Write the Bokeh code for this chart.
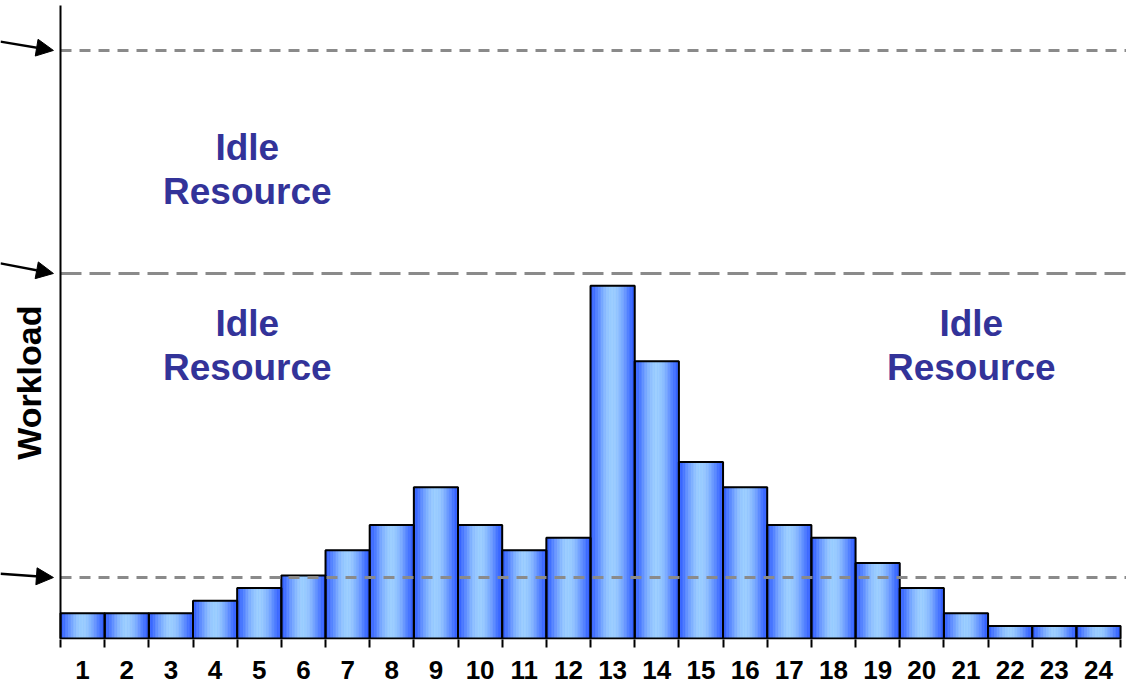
import math
from bokeh.plotting import figure
from bokeh.models import Range1d, FixedTicker, Arrow, NormalHead, ColumnDataSource
from bokeh.core.properties import value
from bokeh.embed import file_html
from bokeh.resources import INLINE

# ---------------- data ----------------
periods = list(range(1, 25))
period_labels = [str(i) for i in periods]
workload = [2, 2, 2, 3, 4, 5, 7, 9, 12, 9, 7, 8, 28, 22, 14, 12, 9, 8, 6, 4, 2, 1, 1, 1]
capacity_levels = [4.84, 28.97, 46.67]
idle_text = ["Idle\nResource", "Idle\nResource", "Idle\nResource"]
idle_x = [4.73, 4.73, 21.12]
idle_y = [37.2, 23.25, 23.25]

# ---------------- styles ----------------
level_dash = ["11 8", "21 8", "11 8"]
arrow_rise = [0.3, 0.8, 0.7]
DARK = (0x2E, 0x5C, 0xFF)
LIGHT = (0x99, 0xCC, 0xFF)
N_STRIPS = 28
FONT = "Liberation Sans"

PX_X, PX_Y = 44.17, 12.6
FRAME_W, FRAME_H = 1126, 639
X0 = 0.5 - 60 / PX_X
X1 = X0 + FRAME_W / PX_X
Y0 = -0.08
Y1 = Y0 + FRAME_H / PX_Y

p = figure(frame_width=FRAME_W, frame_height=FRAME_H,
           x_range=Range1d(X0, X1), y_range=Range1d(Y0, Y1),
           output_backend="svg", toolbar_location=None,
           min_border_left=0, min_border_right=0, min_border_top=0, min_border_bottom=48,
           background_fill_color="white", border_fill_color="white")
p.outline_line_color = None
p.grid.visible = False
p.yaxis.visible = False

# gradient bars built from strips
lefts, rights, tops, bottoms, colors = [], [], [], [], []
for x, v in zip(periods, workload):
    for k in range(N_STRIPS):
        t = (k + 0.5) / N_STRIPS
        f = math.sin(math.pi * t) ** 1.4
        c = tuple(int(round(d + (l - d) * f)) for d, l in zip(DARK, LIGHT))
        lefts.append(x - 0.5 + k / N_STRIPS)
        rights.append(x - 0.5 + (k + 1) / N_STRIPS)
        tops.append(v)
        bottoms.append(0)
        colors.append("#%02x%02x%02x" % c)
strip_src = ColumnDataSource(dict(left=lefts, right=rights, top=tops, bottom=bottoms, color=colors))
p.quad(left="left", right="right", top="top", bottom="bottom", source=strip_src,
       fill_color="color", line_color="color", line_width=0.6)

bar_src = ColumnDataSource(dict(x=periods, top=workload))
p.vbar(x="x", top="top", width=1.0, bottom=0, source=bar_src,
       fill_color=None, line_color="black", line_width=2)

# capacity levels (dashed)
for lvl, dash in zip(capacity_levels, level_dash):
    p.segment(x0=[0.5], y0=[lvl], x1=[X1], y1=[lvl], line_color="#8a8a8a",
              line_width=3, line_dash=dash)

# y axis line
p.segment(x0=[0.5], y0=[0], x1=[0.5], y1=[(638 - 5) / PX_Y], line_color="black", line_width=2)

# arrows pointing at levels
for lvl, rise in zip(capacity_levels, arrow_rise):
    p.add_layout(Arrow(end=NormalHead(size=17, fill_color="black", line_color="black", line_width=1),
                       x_start=X0, y_start=lvl + rise, x_end=0.34, y_end=lvl,
                       line_color="black", line_width=2.5))

# idle resource labels
p.text(x=idle_x, y=idle_y, text=idle_text, text_align="center", text_baseline="middle",
       text_font=value(FONT), text_font_style="bold", text_font_size="37px",
       text_color="#333399", text_line_height=1.08)

# y axis title
p.text(x=[-0.224], y=[20.3], text=["Workload"], angle=math.pi / 2,
       text_align="center", text_baseline="middle",
       text_font=value(FONT), text_font_style="bold", text_font_size="34px",
       text_color="black")

# x axis: labels at centres, ticks at bar boundaries
xa = p.xaxis[0]
xa.ticker = FixedTicker(ticks=periods, minor_ticks=[i + 0.5 for i in range(0, 25)])
xa.major_label_overrides = {i: s for i, s in zip(periods, period_labels)}
xa.axis_line_color = None
xa.major_tick_out = 0
xa.major_tick_in = 0
xa.minor_tick_out = 8
xa.minor_tick_in = 0
xa.minor_tick_line_color = "black"
xa.minor_tick_line_width = 2
xa.major_label_standoff = 13
xa.major_label_text_font = FONT
xa.major_label_text_font_style = "bold"
xa.major_label_text_font_size = "26px"
xa.major_label_text_color = "black"

open("out.html", "w").write(file_html(p, INLINE))
